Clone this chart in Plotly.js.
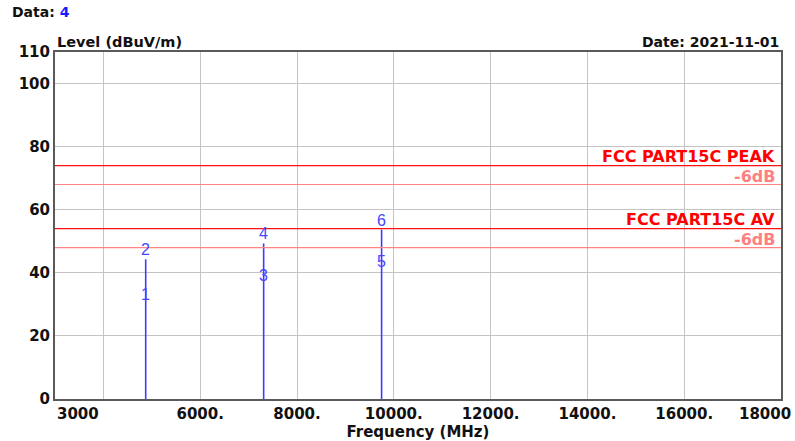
<!DOCTYPE html>
<html>
<head>
<meta charset="utf-8">
<script src="https://cdn.plot.ly/plotly-3.0.1.min.js"></script>
<style>html,body{margin:0;padding:0;background:#fff;}#chart{width:795px;height:441px;}</style>
</head>
<body>
<div id="chart"></div>
<script>
// ---- data ----
const freqs = [4874, 7311, 9748];           // MHz
const peakLevels = [44.3, 49.3, 53.7];       // dBuV/m
const avLevels = [30.0, 36.0, 40.5];         // dBuV/m
const peakMarks = ["2", "4", "6"];
const avMarks = ["1", "3", "5"];
const limitNames = ["FCC PART15C PEAK", "FCC PART15C AV"];
const limitValues = [74, 54];
const marginDb = 6;
const xTickVals = [3000, 4000, 6000, 8000, 10000, 12000, 14000, 16000, 18000];
const xTickText = ["3000", "", "6000.", "8000.", "10000.", "12000.", "14000.", "16000.", "18000"];
const yTickVals = [0, 20, 40, 60, 80, 100, 110];
const yTickText = ["0", "20", "40", "60", "80", "100", "110"];
const dataNo = "4";
const dateText = "2021-11-01";

// ---- build ----
const FONT = "DejaVu Sans, Verdana, sans-serif";
const NUMFONT = "Liberation Sans, Arial, sans-serif";
const stemX = [], stemY = [];
freqs.forEach((f, i) => { stemX.push(f, f, null); stemY.push(0, peakLevels[i], null); });

const traces = [{
  type: "scatter", mode: "lines", x: stemX, y: stemY,
  line: {color: "#3c3cff", width: 1.6}, hoverinfo: "skip", showlegend: false
}];

const shapes = [];
const annotations = [];
limitValues.forEach((v, i) => {
  shapes.push({type: "line", xref: "paper", x0: 0, x1: 1, yref: "y", y0: v, y1: v,
    line: {color: "#ff1010", width: 1.2}});
  shapes.push({type: "line", xref: "paper", x0: 0, x1: 1, yref: "y", y0: v - marginDb, y1: v - marginDb,
    line: {color: "#ff8585", width: 1.2}});
  annotations.push({xref: "paper", x: 1, xanchor: "right", xshift: -4, yref: "y", y: v, yanchor: "bottom", yshift: -2,
    text: "<b>" + limitNames[i] + "</b>", showarrow: false, font: {family: FONT, size: 16, color: "#ff0000"}});
  annotations.push({xref: "paper", x: 1, xanchor: "right", xshift: -4, yref: "y", y: v, yanchor: "top", yshift: 1,
    text: "<b>-" + marginDb + "dB</b>", showarrow: false, font: {family: FONT, size: 16, color: "#ff8080"}});
});

freqs.forEach((f, i) => {
  annotations.push({x: f, y: peakLevels[i], yshift: 9.5, text: peakMarks[i], showarrow: false,
    font: {family: NUMFONT, size: 16, color: "#4646ff"}});
  annotations.push({x: f, y: avLevels[i], yshift: 9.5, text: avMarks[i], showarrow: false,
    font: {family: NUMFONT, size: 16, color: "#4646ff"}});
});

// end tick labels (first and last) placed inside the axis ends
annotations.push({xref: "paper", x: 0, xanchor: "left", yref: "paper", y: 0, yanchor: "top", yshift: -4,
  text: "<b>" + xTickText[0] + "</b>", showarrow: false, font: {family: FONT, size: 15, color: "#111"}});
annotations.push({xref: "paper", x: 1, xanchor: "right", xshift: 12, yref: "paper", y: 0, yanchor: "top", yshift: -4,
  text: "<b>" + xTickText[xTickText.length - 1] + "</b>", showarrow: false, font: {family: FONT, size: 15, color: "#111"}});

// header texts
annotations.push({xref: "paper", x: 0, xanchor: "left", xshift: -45, yref: "paper", y: 1, yanchor: "bottom", yshift: 30,
  text: "<b>Data: <span style='color:#1a1aff'>" + dataNo + "</span></b>", showarrow: false,
  font: {family: FONT, size: 14, color: "#111"}});
annotations.push({xref: "paper", x: 0, xanchor: "left", yref: "paper", y: 1, yanchor: "bottom", yshift: 0,
  text: "<b>Level (dBuV/m)</b>", showarrow: false, font: {family: FONT, size: 14.5, color: "#111"}});
annotations.push({xref: "paper", x: 1, xanchor: "right", yref: "paper", y: 1, yanchor: "bottom", yshift: 0,
  text: "<b>Date: " + dateText + "</b>", showarrow: false, font: {family: FONT, size: 14, color: "#111"}});

const midVals = xTickVals.slice(1, -1);
const midText = xTickText.slice(1, -1).map(t => t ? "<b>" + t + "</b>" : "");

const layout = {
  width: 795, height: 441,
  margin: {l: 55, r: 14, t: 52, b: 42},
  paper_bgcolor: "#ffffff", plot_bgcolor: "#ffffff",
  showlegend: false,
  font: {family: FONT, size: 14, color: "#111"},
  xaxis: {
    range: [xTickVals[0], xTickVals[xTickVals.length - 1]],
    tickmode: "array", tickvals: midVals, ticktext: midText,
    showgrid: true, gridcolor: "#c4c4c4", gridwidth: 1,
    showline: true, mirror: true, linecolor: "#5a5a5a", linewidth: 2,
    ticks: "", zeroline: false, fixedrange: true,
    tickfont: {family: FONT, size: 15, color: "#111"},
    title: {text: "<b>Frequency (MHz)</b>", font: {family: FONT, size: 15, color: "#111"}, standoff: 4}
  },
  yaxis: {
    range: [yTickVals[0], yTickVals[yTickVals.length - 1]],
    tickmode: "array", tickvals: yTickVals, ticktext: yTickText.map(t => "<b>" + t + "</b>"),
    showgrid: true, gridcolor: "#c4c4c4", gridwidth: 1,
    showline: true, mirror: true, linecolor: "#5a5a5a", linewidth: 2,
    ticks: "", zeroline: false, fixedrange: true,
    tickfont: {family: FONT, size: 15, color: "#111"}
  },
  shapes: shapes,
  annotations: annotations
};

Plotly.newPlot("chart", traces, layout, {displayModeBar: false, staticPlot: true});
</script>
</body>
</html>
